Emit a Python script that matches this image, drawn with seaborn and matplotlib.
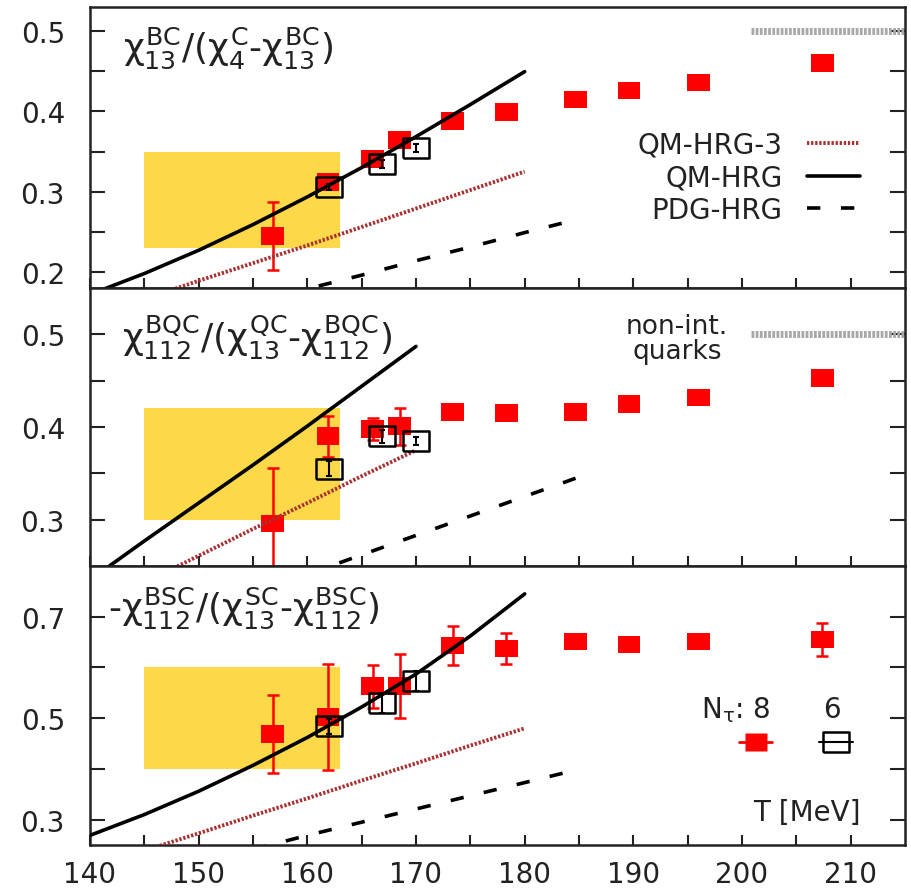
import matplotlib
matplotlib.use('Agg')
import matplotlib.pyplot as plt
from matplotlib.lines import Line2D
import seaborn as sns

# ── data ──
# lattice temperatures [MeV]
T_n8 = [156.8, 161.9, 166.0, 168.5, 173.4, 178.3, 184.7, 189.6, 196.0, 207.4]
T_n6 = [162.0, 166.9, 170.0]

# chi_13^BC / (chi_4^C - chi_13^BC)
bc_n8 = [0.245, 0.312, 0.341, 0.364, 0.388, 0.399, 0.415, 0.426, 0.436, 0.460]
bc_n8_err = [0.042, 0.004, 0.004, 0.004, 0.003, 0.003, 0.003, 0.003, 0.003, 0.003]
bc_n6 = [0.306, 0.335, 0.354]
bc_n6_err = [0.004, 0.005, 0.005]

# chi_112^BQC / (chi_13^QC - chi_112^BQC)
bqc_n8 = [0.296, 0.390, 0.398, 0.401, 0.416, 0.415, 0.416, 0.425, 0.432, 0.453]
bqc_n8_err = [0.060, 0.022, 0.012, 0.020, 0.005, 0.003, 0.003, 0.003, 0.003, 0.003]
bqc_n6 = [0.355, 0.390, 0.385]
bqc_n6_err = [0.008, 0.007, 0.004]

# -chi_112^BSC / (chi_13^SC - chi_112^BSC)
bsc_n8 = [0.469, 0.502, 0.563, 0.563, 0.643, 0.637, 0.651, 0.645, 0.651, 0.655]
bsc_n8_err = [0.077, 0.104, 0.042, 0.063, 0.038, 0.030, 0.012, 0.012, 0.010, 0.033]
bsc_n6 = [0.484, 0.530, 0.573]
bsc_n6_err = [0.015, 0.020, 0.020]

# HRG model curves
T_qm_bc = [140, 145, 150, 155, 160, 165, 170, 175, 180]
qm_bc = [0.172, 0.198, 0.227, 0.259, 0.2935, 0.330, 0.3685, 0.4085, 0.4495]
T_qm3_bc = [145, 150, 155, 160, 165, 170, 175, 180]
qm3_bc = [0.166, 0.189, 0.211, 0.233, 0.256, 0.279, 0.302, 0.325]
T_pdg_bc = [155, 160, 165, 170, 175, 180, 185]
pdg_bc = [0.161, 0.179, 0.196, 0.214, 0.231, 0.249, 0.266]

T_qm_bqc = [140, 145, 150, 155, 160, 165, 170]
qm_bqc = [0.235, 0.277, 0.318, 0.359, 0.401, 0.444, 0.487]
T_qm3_bqc = [145, 150, 155, 160, 165, 170]
qm3_bqc = [0.232, 0.261, 0.290, 0.318, 0.347, 0.375]
T_pdg_bqc = [160, 165, 170, 175, 180, 185]
pdg_bqc = [0.241, 0.262, 0.283, 0.304, 0.325, 0.346]

T_qm_bsc = [140, 145, 150, 155, 160, 165, 170, 175, 180]
qm_bsc = [0.269, 0.310, 0.356, 0.407, 0.462, 0.522, 0.587, 0.662, 0.745]
T_qm3_bsc = [145, 150, 155, 160, 165, 170, 175, 180]
qm3_bsc = [0.239, 0.273, 0.308, 0.342, 0.377, 0.411, 0.446, 0.480]
T_pdg_bsc = [155, 160, 165, 170, 175, 180, 183.6]
pdg_bsc = [0.241, 0.269, 0.295, 0.321, 0.347, 0.373, 0.392]

# yellow bands (T range, lower, upper)
band_T = [145, 163]
bc_band = [0.23, 0.35]
bqc_band = [0.30, 0.42]
bsc_band = [0.40, 0.60]

# non-interacting quark limit
quark_T = [200.8, 215]
quark_val = [0.5, 0.5]

# ── style ──
sns.set_theme(style='white')
plt.rcParams['font.family'] = ['DejaVu Sans']
plt.rcParams['mathtext.fontset'] = 'custom'
plt.rcParams['mathtext.rm'] = 'DejaVu Sans'
plt.rcParams['mathtext.it'] = 'DejaVu Sans'
plt.rcParams['mathtext.bf'] = 'DejaVu Sans:bold'

FS = 20
TXT = '#222222'
RED = '#ff0000'
YELLOW = '#fdd94a'
RECT = [(-1.3, -1), (1.3, -1), (1.3, 1), (-1.3, 1), (-1.3, -1)]

qm_kw = dict(color='black', lw=2.6, linestyle='-')
qm3_kw = dict(color='#a83232', lw=2.8, linestyle=(0, (0.6, 0.45)))
pdg_kw = dict(color='black', lw=2.6, linestyle=(0, (3.7, 5.7)))

panels = [
    dict(label=r'$\chi^{BC}_{13}/(\chi^{C}_{4}$-$\chi^{BC}_{13})$', lpos=(0.040, 0.858),
         ylim=(0.18, 0.53), major=[0.2, 0.3, 0.4, 0.5], minor=[0.25, 0.35, 0.45],
         n8=bc_n8, n8_err=bc_n8_err, n6=bc_n6, n6_err=bc_n6_err, band=bc_band,
         qm=(T_qm_bc, qm_bc), qm3=(T_qm3_bc, qm3_bc), pdg=(T_pdg_bc, pdg_bc), quarks=True),
    dict(label=r'$\chi^{BQC}_{112}/(\chi^{QC}_{13}$-$\chi^{BQC}_{112})$', lpos=(0.039, 0.828),
         ylim=(0.25, 0.55), major=[0.3, 0.4, 0.5], minor=[0.35, 0.45],
         n8=bqc_n8, n8_err=bqc_n8_err, n6=bqc_n6, n6_err=bqc_n6_err, band=bqc_band,
         qm=(T_qm_bqc, qm_bqc), qm3=(T_qm3_bqc, qm3_bqc), pdg=(T_pdg_bqc, pdg_bqc), quarks=True),
    dict(label=r'-$\chi^{BSC}_{112}/(\chi^{SC}_{13}$-$\chi^{BSC}_{112})$', lpos=(0.022, 0.852),
         ylim=(0.25, 0.80), major=[0.3, 0.5, 0.7], minor=[0.4, 0.6],
         n8=bsc_n8, n8_err=bsc_n8_err, n6=bsc_n6, n6_err=bsc_n6_err, band=bsc_band,
         qm=(T_qm_bsc, qm_bsc), qm3=(T_qm3_bsc, qm3_bsc), pdg=(T_pdg_bsc, pdg_bsc), quarks=False),
]

fig, axes = plt.subplots(3, 1, figsize=(9.12, 8.95), dpi=100, sharex=True,
                         gridspec_kw=dict(height_ratios=[281, 278, 279], hspace=0))
fig.subplots_adjust(left=90 / 912, right=905 / 912, top=1 - 8 / 895, bottom=1 - 846 / 895)
fig.patch.set_facecolor('white')

for ax, p in zip(axes, panels):
    ax.set_facecolor('white')
    ax.fill_between(band_T, p['band'][0], p['band'][1], color=YELLOW, lw=0, zorder=0)

    # Ntau = 8 (filled red)
    ax.errorbar(T_n8, p['n8'], yerr=p['n8_err'], fmt='none', ecolor=RED,
                elinewidth=1.8, capsize=4, capthick=1.8, zorder=2)
    sns.scatterplot(x=T_n8, y=p['n8'], ax=ax, marker=RECT, s=16.5 ** 2, color=RED,
                    edgecolor='none', linewidth=0, zorder=2)

    # model curves
    sns.lineplot(x=p['qm3'][0], y=p['qm3'][1], ax=ax, zorder=3, **qm3_kw)
    sns.lineplot(x=p['qm'][0], y=p['qm'][1], ax=ax, zorder=3, **qm_kw)
    sns.lineplot(x=p['pdg'][0], y=p['pdg'][1], ax=ax, zorder=3, **pdg_kw)

    if p['quarks']:
        ax.plot(quark_T, quark_val, color='#a8a8a8', lw=5,
                linestyle=(0, (0.4, 0.2)), solid_capstyle='butt', zorder=1, clip_on=False)

    # Ntau = 6 (open black)
    ax.errorbar(T_n6, p['n6'], yerr=p['n6_err'], fmt='none', ecolor='black',
                elinewidth=1.5, capsize=2.5, capthick=1.5, zorder=4)
    ax.plot(T_n6, p['n6'], linestyle='none', marker=RECT, ms=18.5, mfc='none',
            mec='black', mew=1.8, zorder=4)

    ax.text(p['lpos'][0], p['lpos'][1], p['label'], transform=ax.transAxes,
            fontsize=26, color=TXT, ha='left', va='center')

    ax.set_xlim(140, 215)
    ax.set_ylim(*p['ylim'])
    ax.set_yticks(p['major'])
    ax.set_yticks(p['minor'], minor=True)
    ax.set_yticklabels([f'{v:.1f}' for v in p['major']])
    ax.set_xticks([140, 150, 160, 170, 180, 190, 200, 210])
    ax.set_xticks([145, 155, 165, 175, 185, 195, 205], minor=True)
    ax.tick_params(axis='y', which='both', direction='in', left=True, right=True,
                   length=11, width=1.5, color='#222222', labelsize=FS,
                   labelcolor=TXT, pad=18)
    ax.tick_params(axis='x', which='both', direction='in', bottom=True, top=False,
                   length=7, width=1.5, color='#222222', labelsize=FS,
                   labelcolor=TXT, pad=11)
    for s in ax.spines.values():
        s.set_visible(True)
        s.set_color('#222222')
        s.set_linewidth(1.8)
    ax.set_xlabel('')
    ax.set_ylabel('')
    if ax.get_legend() is not None:
        ax.get_legend().remove()

# top legend: model curves
ax = axes[0]
handles = [Line2D([], [], **qm3_kw), Line2D([], [], **qm_kw), Line2D([], [], **pdg_kw)]
ax.legend(handles, ['QM-HRG-3', 'QM-HRG', 'PDG-HRG'], loc='upper right',
          bbox_to_anchor=(0.945, 0.56), markerfirst=False, frameon=False, fontsize=FS,
          handlelength=1.9, handletextpad=0.9, labelspacing=0.17, borderpad=0,
          borderaxespad=0, labelcolor=TXT)

# middle panel annotation
axes[1].text(0.72, 0.817, 'non-int.\nquarks', transform=axes[1].transAxes, fontsize=19,
             color=TXT, ha='center', va='center', linespacing=0.95)

# bottom legend: Ntau
ax = axes[2]
h8 = Line2D([], [], color=RED, lw=2, marker=RECT, ms=16.5, mec='none')
h6 = Line2D([], [], color='black', lw=1.5, marker=RECT, ms=18.5, mfc='none',
            mec='black', mew=1.8)
ax.legend([h8, h6], ['', ''], ncol=2, loc='center', bbox_to_anchor=(0.866, 0.362),
          frameon=False, fontsize=FS, handlelength=1.2, handletextpad=0,
          columnspacing=1.7, borderpad=0, borderaxespad=0)
ax.text(0.835, 0.459, r'N$_\tau$: 8', transform=ax.transAxes, fontsize=FS,
        color=TXT, ha='right', va='baseline')
ax.text(0.910, 0.459, '6', transform=ax.transAxes, fontsize=FS,
        color=TXT, ha='center', va='baseline')
ax.text(0.945, 0.118, 'T [MeV]', transform=ax.transAxes, fontsize=FS,
        color=TXT, ha='right', va='center')

plt.savefig('out.png', dpi=100, facecolor='white')
plt.close()
